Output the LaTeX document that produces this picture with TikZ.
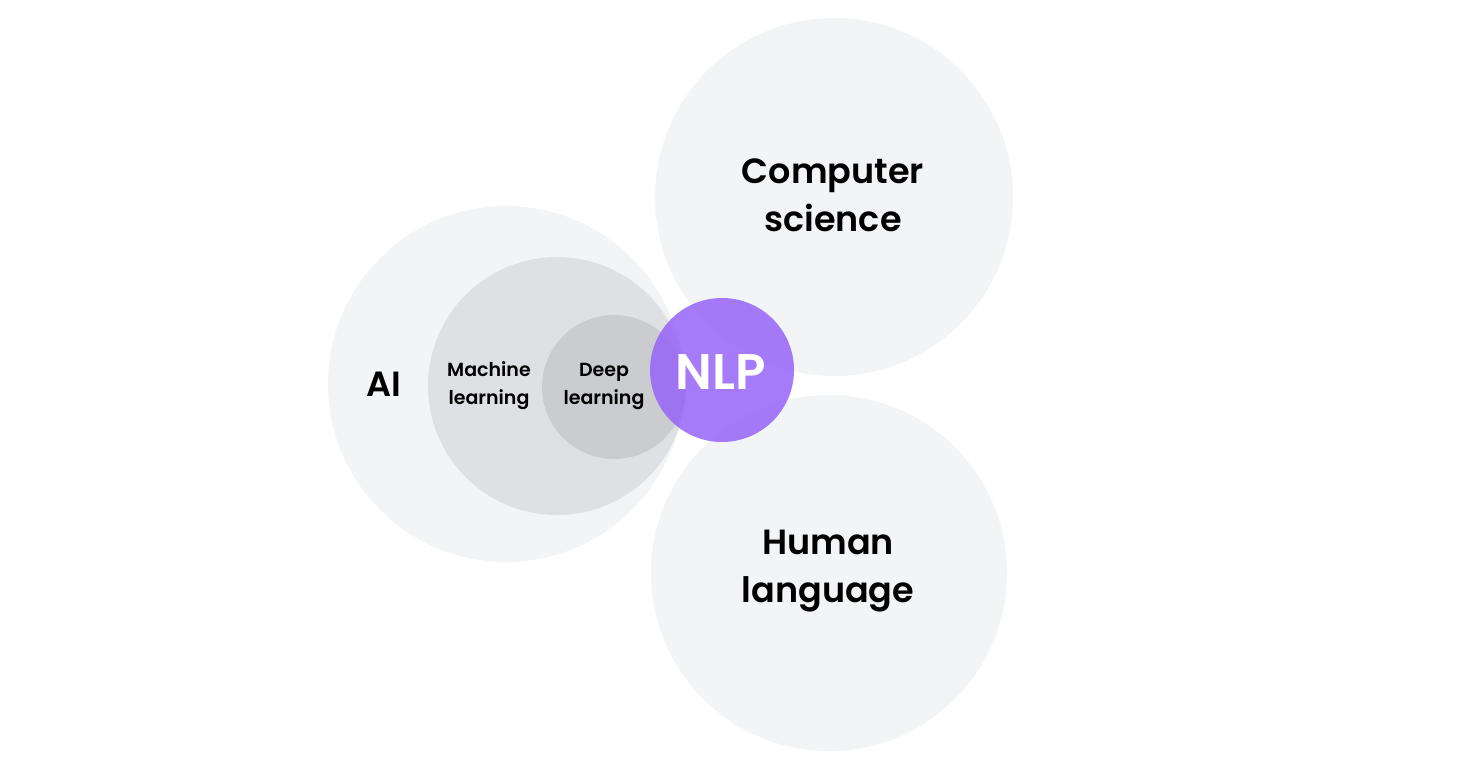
\documentclass[tikz,border=0pt]{standalone}
\usepackage{fontspec}
\setmainfont{Poppins}[UprightFont=*-Medium,BoldFont=*-SemiBold]
\begin{document}
\begin{tikzpicture}[x=1pt,y=-1pt,
  lbl/.style={align=center,font=\bfseries,text=black},
  big/.style={lbl,font=\fontsize{35}{48}\selectfont\bfseries},
  small/.style={lbl,font=\fontsize{19}{28}\selectfont\bfseries}]
\definecolor{c1}{RGB}{243,244,246}
\definecolor{c2}{RGB}{223,224,227}
\definecolor{c3}{RGB}{203,204,207}
\definecolor{np}{RGB}{150,100,248}
\useasboundingbox (0,0) rectangle (1482,772);
\fill[white] (0,0) rectangle (1482,772);
\fill[c1] (506,384) circle (178);
\fill[c1] (834,197) circle (179);
\fill[c1] (829,573) circle (178);
\fill[c2] (557,386) circle (129);
\fill[c3] (614,387) circle (72);
\fill[np,opacity=0.85] (722,370) circle (72);
\node[big] (ai) at (384,384) {AI};
\node[small] (ml) at (489,386) {Machine\\learning};
\node[small] (dl) at (604,386) {Deep\\learning};
\node[lbl,font=\fontsize{50}{56}\selectfont\bfseries,text=white] (nlp) at (721,372) {NLP};
\node[big] (cs) at (833,195) {Computer\\science};
\node[big] (hl) at (828,571) {Human\\language};
\end{tikzpicture}
\end{document}
